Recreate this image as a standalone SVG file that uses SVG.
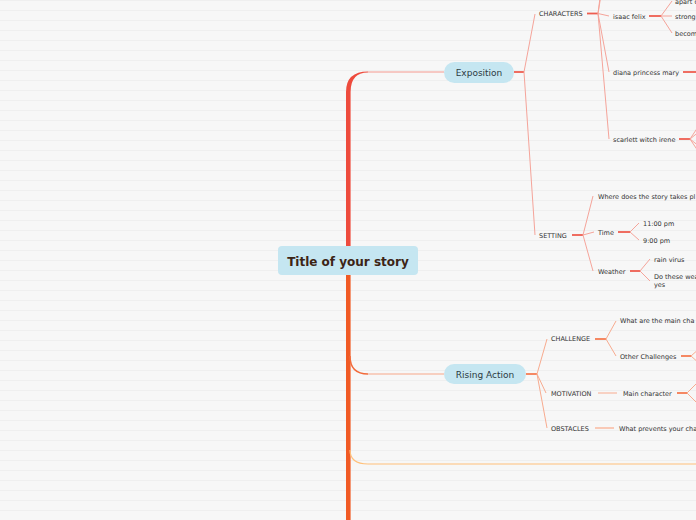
<svg xmlns="http://www.w3.org/2000/svg" width="696" height="520" viewBox="0 0 696 520">
<defs>
<pattern id="bg" width="10" height="10" patternUnits="userSpaceOnUse">
<rect width="10" height="10" fill="#f7f7f7"/>
<rect y="0" width="10" height="1" fill="#efefef"/>
</pattern>
</defs>
<style>
text{font-family:"DejaVu Sans","Liberation Sans",sans-serif;fill:#333;}
.s{font-size:6.5px;}
.n{font-size:9px;fill:#2b3a42;text-anchor:middle;}
.t{font-size:12px;font-weight:bold;fill:#3c2415;text-anchor:middle;}
.pill{fill:#c5e6f1;}
.t1{stroke:#f5a49a;stroke-width:1;fill:none;}
.k1{stroke:#ee5d50;stroke-width:1.8;fill:none;}
.t2{stroke:#f8ab8f;stroke-width:1;fill:none;}
.k2{stroke:#f47b52;stroke-width:1.8;fill:none;}
</style>
<rect width="696" height="520" fill="url(#bg)"/>
<g id="connectors">
<path d="M346,250 V92 Q346,71.5 368,71.5 L368,72.6 Q350.6,72.6 350.6,92 V250 Z" fill="#ee4b3d"/>
<rect x="346" y="270" width="4.6" height="250" fill="#f15a24"/>
<path d="M350,356 Q350,374 368,374" stroke="#f26a3a" stroke-width="1.5" fill="none"/>
<path d="M350,450 Q350,464 368,464 H696" stroke="#ffc07a" stroke-width="1.2" fill="none"/>
<line x1="368" y1="72" x2="444" y2="72" stroke="#f59a90" stroke-width="1"/>
<line x1="368" y1="374" x2="444" y2="374" stroke="#f8a88a" stroke-width="1.2"/>
<line class="k1" x1="514" y1="72" x2="524" y2="72"/>
<path class="t1" d="M524,72 L535,14 M524,72 L535,235"/>
<line class="k1" x1="587" y1="13.5" x2="598" y2="13.5"/>
<path class="t1" d="M598,13.5 L601,-10 M598,13.5 L605,-30 M598,13.5 L609,16 M598,13.5 L609,72 M598,13.5 L609,139"/>
<line class="k1" x1="649" y1="16" x2="661" y2="16"/>
<path class="t1" d="M661,16 L672,1 M661,16 L672,16 M661,16 L672,33"/>
<line class="k1" x1="683" y1="72" x2="696" y2="72"/>
<line class="k1" x1="679" y1="139" x2="690" y2="139"/>
<path class="t1" d="M690,139 L700,124 M690,139 L700,131 M690,139 L700,147 M690,139 L700,154"/>
<line class="k1" x1="572" y1="235" x2="583" y2="235"/>
<path class="t1" d="M583,235 L593,196 M583,235 L594,232 M583,235 L593,271"/>
<line class="k1" x1="618" y1="232" x2="630" y2="232"/>
<path class="t1" d="M630,232 L639,223 M630,232 L639,240"/>
<line class="k1" x1="630" y1="271" x2="640" y2="271"/>
<path class="t1" d="M640,271 L650,259 M640,271 L650,281"/>
<line class="k2" x1="526" y1="374" x2="537" y2="374"/>
<path class="t2" d="M537,374 L547,339 M537,374 L546,393 M537,374 L547,428"/>
<line class="k2" x1="595" y1="339" x2="606" y2="339"/>
<path class="t2" d="M606,339 L616,321 M606,339 L616,356"/>
<line class="k2" x1="681" y1="356" x2="691" y2="356"/>
<path class="t2" d="M691,356 L700,348 M691,356 L700,364"/>
<line class="t2" x1="598" y1="393" x2="617" y2="393"/>
<line class="k2" x1="677" y1="393" x2="687" y2="393"/>
<path class="t2" d="M687,393 L700,380 M687,393 L700,406"/>
<line x1="595" y1="428" x2="614" y2="428" stroke="#f9c3ae" stroke-width="1.8"/>
</g>
<g id="title"><rect x="278" y="246" width="140" height="29" rx="4" class="pill"/><text class="t" x="348" y="266.3">Title of your story</text></g>
<g id="exposition"><rect x="444" y="62" width="70" height="21" rx="10.5" class="pill"/><text class="n" x="479" y="75.6">Exposition</text></g>
<g id="rising-action"><rect x="444" y="364" width="82" height="20" rx="10" class="pill"/><text class="n" x="485" y="377.6">Rising Action</text></g>
<g id="characters"><text class="s" x="539" y="16.2">CHARACTERS</text></g>
<g id="isaac"><text class="s" x="613" y="18.7">isaac felix</text></g>
<g id="apart"><text class="s" x="675" y="3.7">apart o</text></g>
<g id="strong"><text class="s" x="675" y="18.7">strong</text></g>
<g id="becom"><text class="s" x="675" y="35.7">becom</text></g>
<g id="diana"><text class="s" x="613" y="74.7">diana princess mary</text></g>
<g id="scarlett"><text class="s" x="613" y="141.7">scarlett witch irene</text></g>
<g id="setting"><text class="s" x="539" y="237.7">SETTING</text></g>
<g id="where"><text class="s" x="598" y="198.7">Where does the story takes pl</text></g>
<g id="time"><text class="s" x="598" y="234.7">Time</text></g>
<g id="t11"><text class="s" x="643" y="225.7">11:00 pm</text></g>
<g id="t9"><text class="s" x="643" y="242.7">9:00 pm</text></g>
<g id="weather"><text class="s" x="598" y="273.7">Weather</text></g>
<g id="rain"><text class="s" x="654" y="261.7">rain virus</text></g>
<g id="dothese"><text class="s" x="654" y="278.7">Do these wea</text><text class="s" x="654" y="286.7">yes</text></g>
<g id="challenge"><text class="s" x="551" y="341.2">CHALLENGE</text></g>
<g id="mainchal"><text class="s" x="620" y="322.7">What are the main cha</text></g>
<g id="otherchal"><text class="s" x="620" y="358.7">Other Challenges</text></g>
<g id="motivation"><text class="s" x="551" y="395.7">MOTIVATION</text></g>
<g id="maincharacter"><text class="s" x="623" y="395.7">Main character</text></g>
<g id="obstacles"><text class="s" x="551" y="430.7">OBSTACLES</text></g>
<g id="prevents"><text class="s" x="619" y="430.7">What prevents your cha</text></g>
</svg>
